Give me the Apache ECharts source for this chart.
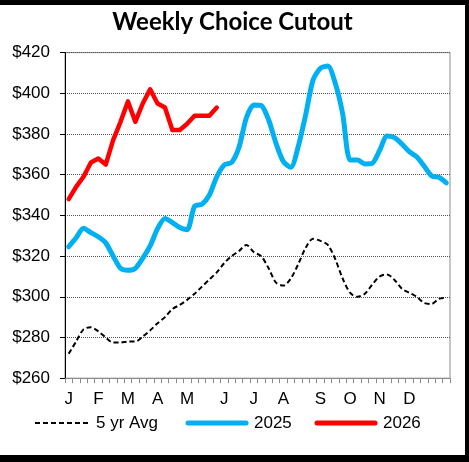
<!DOCTYPE html>
<html><head><meta charset="utf-8">
<script src="https://cdn.jsdelivr.net/npm/echarts@6/dist/echarts.min.js"></script>
<style>
html,body{margin:0;padding:0;background:#000;width:469px;height:462px;overflow:hidden}
#c{position:absolute;left:0;top:5px;width:465px;height:450px;background:#fff}
</style></head>
<body><div id="c"></div>
<script>
const monthLabels = ['J','','','','F','','','','M','','','','A','','','','M','','','','','J','','','','J','','','','A','','','','','S','','','','O','','','','N','','','','D','','','','',''];
const avg5yr = [272,278,284,285,283,280,277.5,277.5,278,278,280.5,283.5,287,290,294,296,298.5,301.5,305,308.5,312,316.5,320,322.5,325.5,322,320,314,307,305.5,309,316,324,328.5,327.5,325.5,318.5,309,302,300,301.5,306,310,311,308.3,304,302,300,297,296.5,299,299.5];
const y2025 = [324.6,329,333.7,331.5,329.5,326.5,320,314,313,314,319,325,333.5,338.5,336.5,334,333,344.5,345.5,350,359,364.8,366,373.5,388,394.3,394,387,375.4,366.4,363.6,373.8,389.3,406.5,412.3,413.4,405,390,367.2,367.2,365.3,365.6,372,379,378.2,375.1,371.3,368.8,364.3,359.5,358.7,356];
const y2026 = [348,354,359,366,368,365,377,386,396,386,395,402,395,393,382,382,385,389,389,389,393];
const seriesNames = ['5 yr Avg','2025','2026'];
const yTicks = {min:260, max:420, step:20};

const font = 'Liberation Sans';
const legendY = 418;
function legendItem(x1, x2, name, style) {
  return [
    {type:'line',shape:{x1:x1,y1:legendY,x2:x2,y2:legendY},style:style,silent:true},
    {type:'text',x:x2+8,y:legendY,style:{text:name,font:'17px "'+font+'"',fill:'#000',textVerticalAlign:'middle',verticalAlign:'middle'},silent:true}
  ];
}

const chart = echarts.init(document.getElementById('c'));
chart.setOption({
  animation:false,
  backgroundColor:'#fff',
  title:{text:'Weekly Choice Cutout',left:'center',top:0,
    textStyle:{fontFamily:'Lato',fontWeight:'bold',fontSize:24,color:'#000'}},
  grid:{left:65,top:47.6,width:385,height:325.6,show:true,borderColor:'#8c8c8c',borderWidth:1,containLabel:false},
  xAxis:{type:'category',data:monthLabels,boundaryGap:true,
    axisLine:{lineStyle:{color:'#8c8c8c',width:1}},
    axisTick:{show:true,interval:0,length:5,lineStyle:{color:'#8c8c8c'}},
    axisLabel:{interval:0,margin:13,fontFamily:font,fontSize:17,color:'#000'},
    splitLine:{show:false}},
  yAxis:{type:'value',min:yTicks.min,max:yTicks.max,interval:yTicks.step,
    axisLine:{show:true,lineStyle:{color:'#000',width:1}},
    axisTick:{show:true,length:5,lineStyle:{color:'#000'}},
    axisLabel:{formatter:v=>'$'+v,margin:15,fontFamily:font,fontSize:17,color:'#000'},
    splitLine:{lineStyle:{type:'dotted',color:'#555',width:1}}},
  graphic:[].concat(
    legendItem(35,88,seriesNames[0],{stroke:'#000',lineWidth:2,lineDash:[5,3]}),
    legendItem(188,246,seriesNames[1],{stroke:'#00B0F0',lineWidth:5,lineCap:'round'}),
    legendItem(317,375,seriesNames[2],{stroke:'#FF0000',lineWidth:5,lineCap:'round'})
  ),
  series:[
    {name:seriesNames[0],type:'line',data:avg5yr,smooth:0.3,symbol:'none',z:3,
      lineStyle:{color:'#000',width:2,type:[5,3]},itemStyle:{color:'#000'}},
    {name:seriesNames[1],type:'line',data:y2025,smooth:0.25,symbol:'none',z:4,
      lineStyle:{color:'#00B0F0',width:5,cap:'round',join:'round'},itemStyle:{color:'#00B0F0'}},
    {name:seriesNames[2],type:'line',data:y2026,smooth:false,symbol:'none',z:5,
      lineStyle:{color:'#FF0000',width:4.5,cap:'round',join:'round'},itemStyle:{color:'#FF0000'}}
  ]
});
</script></body></html>
